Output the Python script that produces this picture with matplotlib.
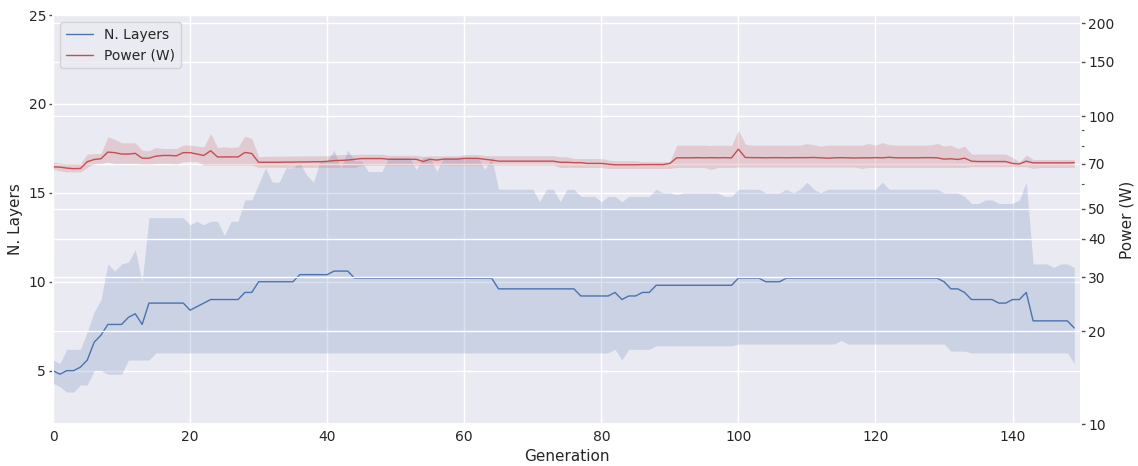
import numpy as np
import matplotlib
matplotlib.use("Agg")
import matplotlib.pyplot as plt
import seaborn as sns
from matplotlib.ticker import FixedLocator, NullFormatter, FixedFormatter

# values, one per generation (0..149)
layers_mean = [
    5.0, 4.8, 5.0, 5.0, 5.2, 5.6, 6.6, 7.0, 7.6, 7.6,
    7.6, 8.0, 8.2, 7.6, 8.8, 8.8, 8.8, 8.8, 8.8, 8.8,
    8.4, 8.6, 8.8, 9.0, 9.0, 9.0, 9.0, 9.0, 9.4, 9.4,
    10.0, 10.0, 10.0, 10.0, 10.0, 10.0, 10.4, 10.4, 10.4, 10.4,
    10.4, 10.6, 10.6, 10.6, 10.2, 10.2, 10.2, 10.2, 10.2, 10.2,
    10.2, 10.2, 10.2, 10.2, 10.2, 10.2, 10.2, 10.2, 10.2, 10.2,
    10.2, 10.2, 10.2, 10.2, 10.2, 9.6, 9.6, 9.6, 9.6, 9.6,
    9.6, 9.6, 9.6, 9.6, 9.6, 9.6, 9.6, 9.2, 9.2, 9.2,
    9.2, 9.2, 9.4, 9.0, 9.2, 9.2, 9.4, 9.4, 9.8, 9.8,
    9.8, 9.8, 9.8, 9.8, 9.8, 9.8, 9.8, 9.8, 9.8, 9.8,
    10.2, 10.2, 10.2, 10.2, 10.0, 10.0, 10.0, 10.2, 10.2, 10.2,
    10.2, 10.2, 10.2, 10.2, 10.2, 10.2, 10.2, 10.2, 10.2, 10.2,
    10.2, 10.2, 10.2, 10.2, 10.2, 10.2, 10.2, 10.2, 10.2, 10.2,
    10.0, 9.6, 9.6, 9.4, 9.0, 9.0, 9.0, 9.0, 8.8, 8.8,
    9.0, 9.0, 9.4, 7.8, 7.8, 7.8, 7.8, 7.8, 7.8, 7.4,
]
layers_hi = [
    5.6, 5.4, 6.2, 6.2, 6.2, 7.2, 8.3, 9.0, 11.0, 10.6,
    11.0, 11.1, 11.8, 10.0, 13.6, 13.6, 13.6, 13.6, 13.6, 13.6,
    13.2, 13.4, 13.2, 13.4, 13.4, 12.6, 13.4, 13.4, 14.6, 14.6,
    15.5, 16.4, 15.6, 15.6, 16.4, 16.4, 16.7, 16.0, 15.6, 16.8,
    16.8, 17.4, 16.4, 17.4, 16.8, 16.8, 16.2, 16.2, 16.2, 17.0,
    17.0, 17.0, 17.0, 16.3, 17.0, 17.0, 16.2, 17.0, 17.0, 17.0,
    17.0, 17.0, 17.0, 16.3, 17.0, 15.2, 15.2, 15.2, 15.2, 15.2,
    15.2, 14.5, 15.2, 15.2, 14.5, 15.2, 15.2, 14.8, 14.8, 14.8,
    14.5, 14.8, 14.8, 14.5, 14.8, 14.8, 14.8, 14.8, 15.2, 15.0,
    15.0, 14.9, 15.0, 15.0, 15.0, 15.0, 15.0, 15.0, 14.8, 14.8,
    15.2, 15.2, 15.2, 15.2, 15.0, 15.0, 15.0, 15.2, 15.0, 15.2,
    15.6, 15.2, 15.0, 15.2, 15.2, 15.2, 15.2, 15.2, 15.2, 15.2,
    15.2, 15.6, 15.2, 15.2, 15.2, 15.2, 15.2, 15.2, 15.2, 15.2,
    15.0, 15.0, 15.0, 14.8, 14.4, 14.4, 14.6, 14.6, 14.4, 14.4,
    14.4, 14.6, 15.6, 11.0, 11.0, 11.0, 10.8, 11.0, 11.0, 10.8,
]
layers_lo = [
    4.3, 4.1, 3.8, 3.8, 4.2, 4.2, 5.0, 5.0, 4.8, 4.8,
    4.8, 5.6, 5.6, 5.6, 5.6, 6.0, 6.0, 6.0, 6.0, 6.0,
    6.0, 6.0, 6.0, 6.0, 6.0, 6.0, 6.0, 6.0, 6.0, 6.0,
    6.0, 6.0, 6.0, 6.0, 6.0, 6.0, 6.0, 6.0, 6.0, 6.0,
    6.0, 6.0, 6.0, 6.0, 6.0, 6.0, 6.0, 6.0, 6.0, 6.0,
    6.0, 6.0, 6.0, 6.0, 6.0, 6.0, 6.0, 6.0, 6.0, 6.0,
    6.0, 6.0, 6.0, 6.0, 6.0, 6.0, 6.0, 6.0, 6.0, 6.0,
    6.0, 6.0, 6.0, 6.0, 6.0, 6.0, 6.0, 6.0, 6.0, 6.0,
    6.0, 6.0, 6.2, 5.6, 6.2, 6.2, 6.2, 6.2, 6.4, 6.4,
    6.4, 6.4, 6.4, 6.4, 6.4, 6.4, 6.4, 6.4, 6.4, 6.4,
    6.5, 6.5, 6.5, 6.5, 6.5, 6.5, 6.5, 6.5, 6.5, 6.5,
    6.5, 6.5, 6.5, 6.5, 6.5, 6.7, 6.5, 6.5, 6.5, 6.5,
    6.5, 6.5, 6.5, 6.5, 6.5, 6.5, 6.5, 6.5, 6.5, 6.5,
    6.5, 6.1, 6.1, 6.1, 6.0, 6.0, 6.0, 6.0, 6.0, 6.0,
    6.0, 6.0, 6.0, 6.0, 6.0, 6.0, 6.0, 6.0, 6.0, 5.4,
]

power_mean = [
    68.4, 68.3, 67.8, 67.5, 67.6, 71.1, 72.3, 72.7, 76.4, 76.1,
    75.3, 75.3, 75.7, 73.0, 73.0, 74.1, 74.5, 74.5, 74.3, 76.1,
    76.1, 75.3, 74.5, 77.2, 73.7, 73.7, 73.7, 73.7, 76.2, 75.6,
    70.8, 70.8, 70.8, 70.8, 70.9, 70.9, 71.0, 71.0, 71.1, 71.1,
    71.3, 71.7, 71.8, 72.0, 72.4, 72.8, 72.8, 72.8, 72.8, 72.4,
    72.4, 72.4, 72.4, 72.4, 71.2, 72.4, 72.0, 72.5, 72.5, 72.5,
    72.9, 72.9, 72.9, 72.4, 72.0, 71.4, 71.4, 71.4, 71.4, 71.4,
    71.4, 71.4, 71.4, 71.4, 70.8, 70.8, 70.6, 70.6, 70.2, 70.2,
    70.2, 69.8, 69.5, 69.5, 69.5, 69.5, 69.6, 69.6, 69.6, 69.6,
    70.2, 73.2, 73.2, 73.2, 73.3, 73.2, 73.3, 73.2, 73.3, 73.2,
    78.1, 73.4, 73.3, 73.3, 73.2, 73.3, 73.3, 73.2, 73.3, 73.3,
    73.3, 73.4, 73.2, 73.0, 73.2, 73.3, 73.2, 73.1, 73.2, 73.2,
    73.3, 73.2, 73.5, 73.2, 73.2, 73.2, 73.2, 73.3, 73.3, 73.2,
    72.5, 72.7, 72.3, 73.0, 71.4, 71.2, 71.2, 71.2, 71.2, 71.2,
    70.2, 69.9, 71.4, 70.5, 70.5, 70.5, 70.5, 70.5, 70.5, 70.6,
]
power_hi = [
    71.1, 70.5, 70.2, 70.2, 70.2, 75.3, 75.5, 75.6, 85.7, 84.0,
    81.9, 81.9, 81.9, 77.5, 77.2, 79.1, 78.5, 78.5, 78.5, 80.5,
    80.5, 79.9, 79.5, 87.8, 79.1, 79.5, 79.1, 79.5, 86.1, 84.6,
    73.8, 74.0, 74.1, 74.1, 74.2, 74.2, 74.2, 74.3, 74.3, 74.3,
    74.4, 74.8, 75.0, 75.0, 75.0, 75.2, 75.2, 75.2, 75.2, 74.6,
    74.6, 74.6, 74.6, 74.6, 74.0, 74.3, 74.3, 74.3, 74.3, 74.3,
    75.0, 75.0, 75.0, 74.5, 74.4, 74.4, 74.4, 74.4, 74.4, 74.4,
    74.4, 74.4, 74.4, 74.4, 73.8, 73.8, 72.8, 72.8, 72.8, 72.8,
    72.8, 72.0, 71.6, 71.6, 71.6, 71.6, 71.1, 71.1, 71.1, 71.1,
    71.1, 80.5, 80.5, 80.5, 80.5, 80.5, 80.3, 80.5, 80.5, 80.3,
    90.1, 81.1, 80.5, 80.5, 80.5, 80.5, 80.5, 80.5, 80.5, 80.5,
    81.5, 80.7, 79.9, 80.5, 80.5, 80.5, 80.5, 80.5, 80.5, 81.5,
    80.5, 82.0, 80.8, 80.5, 80.5, 80.5, 80.5, 80.5, 80.6, 81.5,
    79.9, 80.5, 78.5, 79.9, 75.3, 75.3, 75.3, 75.3, 75.3, 75.3,
    73.4, 71.1, 74.7, 72.3, 72.3, 72.3, 72.3, 72.3, 72.3, 72.3,
]
power_lo = [
    67.1, 66.4, 65.9, 65.9, 65.9, 68.1, 70.2, 70.2, 70.9, 70.2,
    70.2, 70.2, 70.2, 69.9, 69.9, 70.2, 70.2, 70.2, 69.9, 71.1,
    71.1, 71.1, 69.3, 69.3, 69.3, 69.3, 69.3, 69.3, 69.3, 69.3,
    68.2, 68.2, 68.2, 68.2, 68.2, 68.2, 68.2, 68.2, 68.2, 68.2,
    68.2, 68.2, 68.2, 68.2, 68.2, 69.2, 69.2, 69.2, 69.2, 69.2,
    69.2, 69.2, 69.2, 69.2, 69.2, 69.2, 69.2, 69.2, 69.2, 69.2,
    69.2, 69.2, 69.2, 69.2, 69.3, 69.3, 69.3, 69.3, 69.3, 69.3,
    69.3, 69.3, 69.3, 69.3, 68.1, 68.1, 68.1, 68.1, 68.1, 68.1,
    68.1, 67.6, 67.6, 67.6, 67.6, 67.6, 67.6, 67.6, 67.6, 67.6,
    67.6, 68.1, 68.1, 68.1, 68.1, 68.1, 67.1, 68.1, 68.1, 68.1,
    68.3, 68.3, 68.3, 68.3, 68.3, 68.3, 68.3, 68.3, 68.3, 68.3,
    68.3, 68.3, 68.3, 68.3, 68.3, 68.3, 68.3, 68.3, 67.6, 68.1,
    68.1, 68.1, 68.1, 68.1, 68.1, 68.1, 68.1, 68.1, 68.1, 68.1,
    68.1, 68.1, 68.1, 68.1, 68.5, 68.5, 68.5, 68.5, 68.5, 68.5,
    68.5, 68.5, 68.5, 67.6, 68.1, 68.1, 68.1, 68.1, 68.1, 68.1,
]
generation = np.arange(len(layers_mean))

power_ticks = [10, 20, 30, 40, 50, 70, 100, 150, 200]

sns.set_theme(style="darkgrid")
blue, red = "#4C72B0", "#C44E52"

fig = plt.figure(figsize=(11.38, 4.66), dpi=100)
ax = fig.add_axes([0.0466, 0.0901, 0.9034, 0.8777])
ax2 = ax.twinx()

l1, = ax.plot(generation, layers_mean, color=blue, lw=1.0, label="N. Layers")
ax.fill_between(generation, layers_lo, layers_hi, color=blue, alpha=0.2, lw=0)

l2, = ax2.plot(generation, power_mean, color=red, lw=1.0, label="Power (W)")
ax2.fill_between(generation, power_lo, power_hi, color=red, alpha=0.2, lw=0)

ax.set_xlim(0, 150)
ax.set_ylim(2, 25)
ax.set_yticks([5, 10, 15, 20, 25])
ax.set_xlabel("Generation", fontsize=11)
ax.set_ylabel("N. Layers", fontsize=11)

ax2.set_yscale("log")
ax2.set_ylim(10, 213)
ax2.yaxis.set_major_locator(FixedLocator(power_ticks))
ax2.yaxis.set_major_formatter(FixedFormatter([str(t) for t in power_ticks]))
ax2.yaxis.set_minor_locator(FixedLocator([60, 80, 90]))
ax2.yaxis.set_minor_formatter(NullFormatter())
ax2.set_ylabel("Power (W)", fontsize=11)
ax2.grid(True, which="major", color="white")

for a in (ax, ax2):
    a.tick_params(axis="both", which="major", labelsize=10, length=3, width=1, color=".3", pad=2)
    a.tick_params(axis="y", which="minor", length=2, width=0.8, color=".3")
ax.tick_params(axis="x", length=0, pad=4)

ax2.legend(handles=[l1, l2], loc="upper left", fontsize=10)

fig.savefig("out.png", dpi=100)
